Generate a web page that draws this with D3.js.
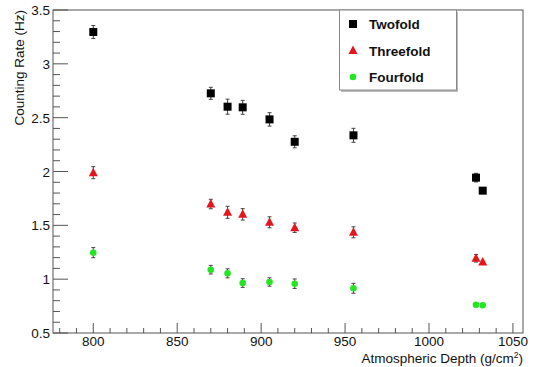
<!DOCTYPE html>
<html>
<head>
<meta charset="utf-8">
<script src="https://cdn.jsdelivr.net/npm/d3@7"></script>
<style>
  body { margin: 0; background: #fff; }
  text { font-family: "Liberation Sans", Arial, sans-serif; }
</style>
</head>
<body>
<svg id="chart" width="538" height="367"></svg>
<script>
const depth = [800, 870, 880, 889, 905, 920, 955, 1028, 1032]
const twofold = [3.296, 2.726, 2.602, 2.596, 2.484, 2.276, 2.336, 1.943, 1.822]
const twofoldErr = [0.06, 0.056, 0.07, 0.065, 0.062, 0.056, 0.065, 0.04, 0.01]
const threefold = [1.989, 1.698, 1.621, 1.602, 1.528, 1.478, 1.435, 1.194, 1.16]
const threefoldErr = [0.056, 0.044, 0.056, 0.053, 0.051, 0.044, 0.051, 0.035, 0.01]
const fourfold = [1.246, 1.088, 1.054, 0.964, 0.974, 0.958, 0.915, 0.763, 0.758]
const fourfoldErr = [0.047, 0.04, 0.042, 0.04, 0.039, 0.044, 0.046, 0.02, 0.005]
const xTicks = [800, 850, 900, 950, 1000, 1050]
const yTicks = [0.5, 1, 1.5, 2, 2.5, 3, 3.5]

const series = [
  {name: 'Twofold', values: twofold, err: twofoldErr, color: '#000000', shape: 'square'},
  {name: 'Threefold', values: threefold, err: threefoldErr, color: '#e3161c', shape: 'triangle'},
  {name: 'Fourfold', values: fourfold, err: fourfoldErr, color: '#22e622', shape: 'circle'}
]

const svg = d3.select('#chart')
const marginLeft = 53, marginTop = 10, marginRight = 15, marginBottom = 34
const width = 538, height = 367

const x = d3.scaleLinear().domain([776, 1056]).range([marginLeft, width - marginRight])
const y = d3.scaleLinear().domain([0.5, 3.5]).range([height - marginBottom, marginTop])

const axisColor = '#555'

// minor + major ticks, x
const xMinor = d3.range(780, 1056, 10)
svg.append('g')
  .selectAll('line')
  .data(xMinor)
  .join('line')
  .attr('x1', d => x(d)).attr('x2', d => x(d))
  .attr('y1', y(0.5)).attr('y2', d => y(0.5) - (d % 50 === 0 ? 10 : 5))
  .attr('stroke', axisColor)

svg.append('g')
  .selectAll('text')
  .data(xTicks)
  .join('text')
  .attr('x', d => x(d))
  .attr('y', y(0.5) + 13)
  .attr('text-anchor', 'middle')
  .attr('font-size', 13.5)
  .attr('fill', '#111')
  .text(d => d)

// minor + major ticks, y
const yMinor = d3.range(5, 36).map(d => d / 10)
svg.append('g')
  .selectAll('line')
  .data(yMinor)
  .join('line')
  .attr('x1', x.range()[0])
  .attr('x2', (d, i) => x.range()[0] + (i % 5 === 0 ? 15 : 7))
  .attr('y1', d => y(d)).attr('y2', d => y(d))
  .attr('stroke', axisColor)

svg.append('g')
  .selectAll('text')
  .data(yTicks)
  .join('text')
  .attr('x', marginLeft - 3)
  .attr('y', d => y(d) + 5)
  .attr('text-anchor', 'end')
  .attr('font-size', 13.5)
  .attr('fill', '#111')
  .text(d => d)

// frame
svg.append('rect')
  .attr('x', x.range()[0]).attr('y', y.range()[1])
  .attr('width', x.range()[1] - x.range()[0])
  .attr('height', y.range()[0] - y.range()[1])
  .attr('fill', 'none')
  .attr('stroke', axisColor)

// axis titles
svg.append('text')
  .attr('transform', `translate(24,${marginTop}) rotate(-90)`)
  .attr('text-anchor', 'end')
  .attr('font-size', 13.5)
  .attr('fill', '#111')
  .text('Counting Rate (Hz)')

const xt = svg.append('text')
  .attr('x', x.range()[1])
  .attr('y', 363)
  .attr('text-anchor', 'end')
  .attr('font-size', 13.5)
  .attr('fill', '#111')
xt.append('tspan').text('Atmospheric Depth (g/cm')
xt.append('tspan').attr('font-size', 8.5).attr('dy', -5).text('2')
xt.append('tspan').attr('dy', 5).text(')')

function drawMarker(g, shape, color, cx, cy) {
  if (shape === 'square') {
    g.append('rect').attr('x', cx - 4).attr('y', cy - 4).attr('width', 8).attr('height', 8).attr('fill', color)
  } else if (shape === 'triangle') {
    g.append('path').attr('d', `M${cx},${cy - 5}L${cx + 4.5},${cy + 3.5}L${cx - 4.5},${cy + 3.5}Z`).attr('fill', color)
  } else {
    g.append('circle').attr('cx', cx).attr('cy', cy).attr('r', 3.3).attr('fill', color)
  }
}

// data
series.forEach(s => {
  const g = svg.append('g')
  depth.forEach((d, i) => {
    const cx = x(d), v = s.values[i], e = s.err[i]
    g.append('line').attr('x1', cx).attr('x2', cx)
      .attr('y1', y(v - e)).attr('y2', y(v + e))
      .attr('stroke', '#444').attr('stroke-width', 1)
    ;[v - e, v + e].forEach(t => {
      g.append('line').attr('x1', cx - 2).attr('x2', cx + 2)
        .attr('y1', y(t)).attr('y2', y(t))
        .attr('stroke', '#444').attr('stroke-width', 1)
    })
    drawMarker(g, s.shape, s.color, cx, y(v))
  })
})

// legend
const lg = svg.append('g')
lg.append('rect').attr('x', 341).attr('y', 12).attr('width', 117).attr('height', 80).attr('fill', '#bbb')
lg.append('rect').attr('x', 339.5).attr('y', marginTop).attr('width', 117).attr('height', 80)
  .attr('fill', '#fff').attr('stroke', '#888')
series.forEach((s, i) => {
  const cy = 24 + i * 26.5
  drawMarker(lg, s.shape, s.color, 353, cy)
  lg.append('text').attr('x', 369).attr('y', cy + 5)
    .attr('font-size', 13.5).attr('font-weight', 'bold').attr('fill', '#111')
    .text(s.name)
})
</script>
</body>
</html>
